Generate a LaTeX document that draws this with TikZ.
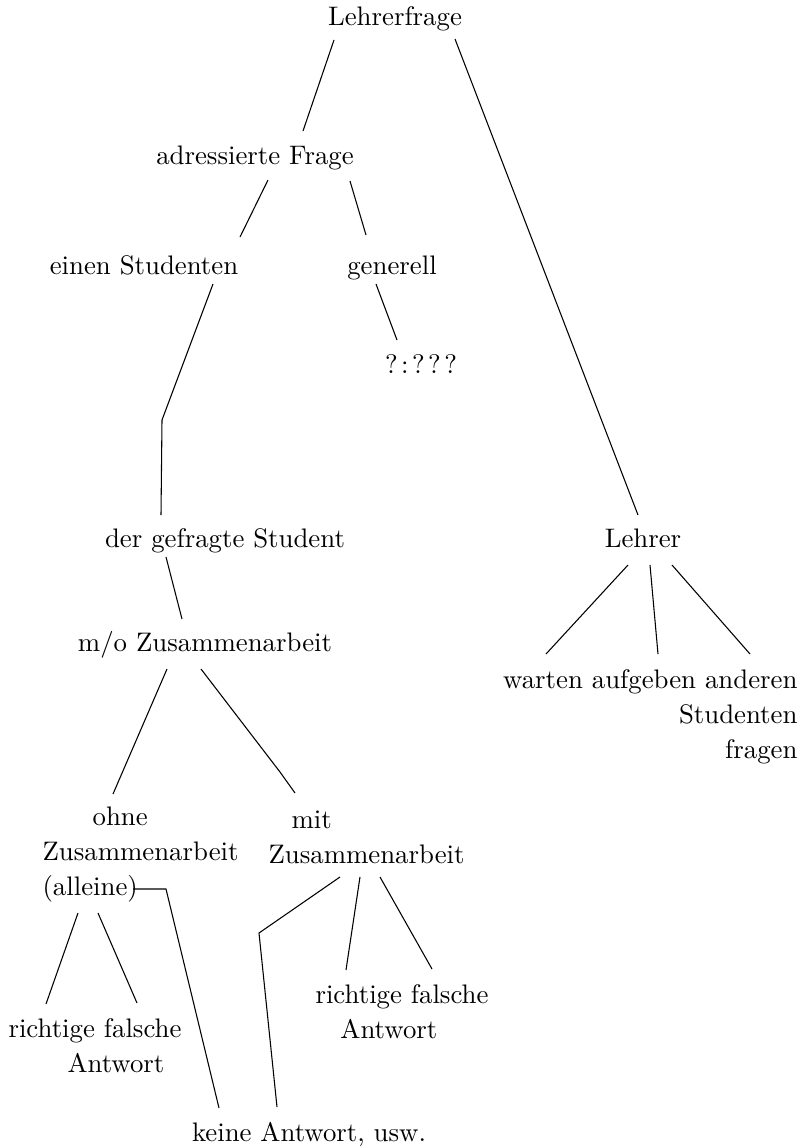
\documentclass[tikz,border=0pt]{standalone}
\usetikzlibrary{calc}
\tikzset{
  every node/.style={font=\fontsize{10}{12.9}\selectfont,inner sep=0pt},
  lbl/.style={anchor=base},
  blk/.style={anchor=base west,align=left},
  blkr/.style={anchor=base east,align=right},
  edge/.style={line width=0.4pt},
}
\begin{document}
\begin{tikzpicture}[x=0.3731pt,y=-0.3731pt]
  \useasboundingbox (0,0) rectangle (804,1148);

  % upper part of the tree
  \node[lbl] (lf)  at (395,25)  {Lehrerfrage};
  \node[lbl] (af)  at (255,164) {adressierte Frage};
  \node[lbl] (est) at (144,274) {einen Studenten};
  \node[lbl] (gen) at (392,274) {generell};
  \node[lbl] (qq)  at (421,373) {?\kern1.3pt:\kern1.3pt?\kern1.3pt?\kern1.3pt?};

  % middle
  \node[lbl] (gs) at (225,547) {der gefragte Student};
  \node[lbl] (le) at (643,547) {Lehrer};
  \node[lbl] (mo) at (205,651) {m/o Zusammenarbeit};
  \node[blkr] (wa) at (798,758) {warten aufgeben anderen\\Studenten\\fragen};

  % lower part (base = last line)
  \node[blk] (oz)  at (42,895)  {\hspace*{18.7pt}ohne\\Zusammenarbeit\\(alleine)};
  \node[blk] (mz)  at (268,863) {\hspace*{8.6pt}mit\\Zusammenarbeit};
  \node[blk] (rf1) at (8,1072)  {richtige falsche\\\hspace*{22pt}Antwort};
  \node[blk] (rf2) at (315,1038) {richtige falsche\\\hspace*{9.3pt}Antwort};
  \node[lbl] (ka)  at (309,1141) {keine Antwort, usw.};

  % bends
  \coordinate (bendA) at (162,420);
  \coordinate (bendB) at (280,772);
  \coordinate (bendC) at (259,933);

  % connectors
  \draw[edge] ($(lf.base)+(-61,15)$) -- ($(af.base)+(48,-33)$);
  \draw[edge] ($(lf.base)+(60,14)$) -- ($(le.base)+(-5,-32)$);
  \draw[edge] ($(af.base)+(13,16)$) -- ($(est.base)+(96,-37)$);
  \draw[edge] ($(af.base)+(95,17)$) -- ($(gen.base)+(-26,-39)$);
  \draw[edge] ($(gen.base)+(-16,10)$) -- ($(qq.base)+(-24,-33)$);
  \draw[edge] ($(est.base)+(69,10)$) -- (bendA) -- ($(gs.base)+(-64,-32)$);
  \draw[edge] ($(gs.base)+(-59,10)$) -- ($(mo.base)+(-23,-32)$);
  \draw[edge] ($(mo.base)+(-38,18)$) -- ($(oz.base west)+(71,-101)$);
  \draw[edge] ($(mo.base)+(-4,18)$) -- (bendB) -- ($(mz.base west)+(27,-70)$);
  \foreach \dx/\ex in {-15/-252,7/-140,29/-48}{
    \draw[edge] ($(le.base)+(\dx,18)$) -- ($(wa.base east)+(\ex,-104)$);
  }
  % ohne branch
  \draw[edge] ($(oz.base west)+(36,18)$) -- ($(rf1.base west)+(38,-68)$);
  \draw[edge] ($(oz.base west)+(56,18)$) -- ($(rf1.base west)+(129,-69)$);
  \draw[edge] ($(oz.base west)+(91,-6)$) -- ($(oz.base west)+(124,-6)$) -- ($(ka.base)+(-90,-33)$);
  % mit branch
  \draw[edge] ($(mz.base west)+(72,14)$) -- (bendC) -- ($(ka.base)+(-32,-34)$);
  \draw[edge] ($(mz.base west)+(92,14)$) -- ($(rf2.base west)+(31,-68)$);
  \draw[edge] ($(mz.base west)+(112,14)$) -- ($(rf2.base west)+(117,-69)$);
\end{tikzpicture}
\end{document}
